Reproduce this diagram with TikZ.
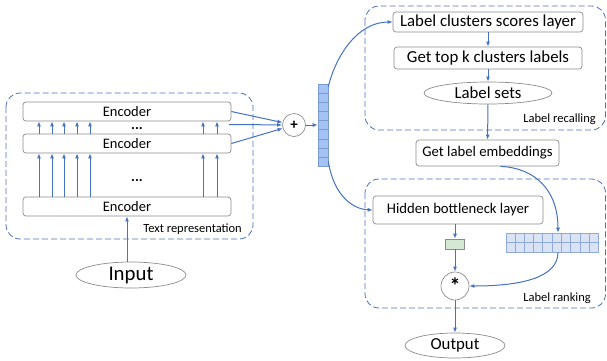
\documentclass[tikz,border=0pt]{standalone}
\usepackage{fontspec}
\setmainfont{Carlito}
\usetikzlibrary{arrows.meta,shapes.geometric,calc}
\definecolor{ablue}{HTML}{4472C4}
\definecolor{dblue}{HTML}{4A70B8}
\definecolor{bgray}{HTML}{8C8C8C}
\definecolor{vecfill}{HTML}{A4C2F4}
\definecolor{vecline}{HTML}{7B9BD0}
\definecolor{matfill}{HTML}{DAE3F3}
\definecolor{matline}{HTML}{8FAADC}
\definecolor{gfill}{HTML}{D5E8D4}
\begin{document}
\begin{tikzpicture}[x=1pt,y=-1pt,
  box/.style={draw=bgray, line width=0.7pt, rounded corners=3pt, fill=white, inner sep=0pt},
  ell/.style={ellipse, draw=bgray, line width=0.7pt, fill=white, inner sep=0pt},
  arr/.style={draw=ablue, line width=1pt, -{Latex[length=5pt,width=4pt]}},
  dashbox/.style={draw=dblue, line width=0.8pt, dash pattern=on 6pt off 3pt, rounded corners=14pt},
  fenc/.style={font=\fontsize{14.5}{16}\selectfont},
  fbig/.style={font=\fontsize{16.8}{18}\selectfont},
  fmid/.style={font=\fontsize{14.7}{16}\selectfont},
  fsmall/.style={font=\fontsize{12.5}{14}\selectfont},
  cellline/.style={draw=vecline, line width=0.5pt}]
\useasboundingbox (0,0) rectangle (607,360);

% dashed containers
\draw[dashbox] (6,93) rectangle (253,239);
\draw[dashbox] (365,6) rectangle (605.5,130);
\draw[dashbox] (365,179) rectangle (605.5,308);

% left encoders
\node[box, fenc, minimum width=208pt, minimum height=19pt] (enc1) at (127,111.5) {Encoder};
\node[box, fenc, minimum width=208pt, minimum height=19pt] (enc2) at (127,143.5) {Encoder};
\node[box, fenc, minimum width=208pt, minimum height=19pt] (enc3) at (127,206.5) {Encoder};
\node[font=\bfseries\fontsize{14.5}{16}\selectfont, anchor=base, inner sep=0pt] (dots1) at (137,129.5) {...};
\node[font=\bfseries\fontsize{14.5}{16}\selectfont, anchor=base, inner sep=0pt] (dots2) at (137,181.5) {...};
\foreach \x in {39,52,64,77,90,203,217} {
  \draw[arr] (enc2.north -| \x,0) -- (enc1.south -| \x,0);
  \draw[arr] (enc3.north -| \x,0) -- (enc2.south -| \x,0);
}
\node[fsmall, anchor=east, inner sep=0pt] (txtrep) at (242,229) {Text representation};

\node[ell, minimum width=110pt, minimum height=26pt, font=\fontsize{20.8}{22}\selectfont] (input) at (131,275) {Input};
\draw[arr] (enc3.south |- input.north) -- (enc3.south);

% plus and vector
\node[circle, draw=bgray, line width=0.7pt, minimum size=23pt, inner sep=0pt, font=\bfseries\fontsize{15}{16}\selectfont] (plus) at (294,125) {+};
\coordinate (midout) at (229,124.5);
\draw[arr] (enc1.east) -- (plus);
\draw[arr] (midout) -- (plus);
\draw[arr] (enc2.east) -- (plus);

\node[draw=vecline, fill=vecfill, line width=0.6pt, minimum width=10pt, minimum height=82pt, inner sep=0pt] (vec) at (323,125) {};
\foreach \i in {1,...,8}
  \draw[cellline] ($(vec.north west)!\i/9!(vec.south west)$) -- ($(vec.north east)!\i/9!(vec.south east)$);
\draw[arr] (plus) -- (vec);

% label recalling
\node[box, fbig, minimum width=190pt, minimum height=20pt] (lcs) at (488,22) {Label clusters scores layer};
\node[box, fbig, minimum width=188pt, minimum height=22pt] (gtk) at (488,58) {Get top k clusters labels};
\node[ell, fbig, minimum width=128pt, minimum height=22pt] (ls) at (488,93) {Label sets};
\node[fsmall, anchor=east, inner sep=0pt] (lrec) at (596,119) {Label recalling};
\draw[arr] (lcs) -- (gtk);
\draw[arr] (gtk) -- (ls);

\node[box, fmid, minimum width=143pt, minimum height=26pt] (gle) at (487.5,153) {Get label embeddings};
\draw[arr] (ls) -- (gle);

% label ranking
\node[box, fmid, minimum width=170pt, minimum height=28pt] (hid) at (458,210) {Hidden bottleneck layer};
\node[draw=bgray, fill=gfill, line width=0.6pt, minimum width=19pt, minimum height=10pt, inner sep=0pt] (green) at (455,244) {};
\node[draw=matline, fill=matfill, line width=0.6pt, minimum width=92pt, minimum height=19pt, inner sep=0pt] (mat) at (552,242.5) {};
\foreach \i in {1,...,9}
  \draw[draw=matline, line width=0.5pt] ($(mat.north west)!\i/10!(mat.north east)$) -- ($(mat.south west)!\i/10!(mat.south east)$);
\draw[draw=matline, line width=0.5pt] (mat.west) -- (mat.east);
\node[circle, draw=bgray, line width=0.7pt, fill=white, minimum size=28pt, inner sep=0pt, font=\bfseries\fontsize{22}{22}\selectfont] (star) at (455,286) {\raisebox{-6pt}{*}};
\node[fsmall, anchor=east, inner sep=0pt] (lrank) at (591,298) {Label ranking};
\node[ell, fbig, minimum width=100pt, minimum height=25pt] (output) at (455,345.5) {Output};

\draw[arr] (hid.south -| green) -- (green);
\draw[arr] (green) -- (star);
\draw[arr] (star) -- (output);

% curved connectors
\draw[arr] ([yshift=-3pt]vec.north east) .. controls (336,55) and (358,22) .. (lcs.west);
\draw[arr] ([yshift=5pt]vec.south east) .. controls (333,192) and (350,209) .. (hid.west);
\draw[arr] ([xshift=13pt]gle.south) .. controls (535,168) and (558,190) .. ([xshift=6pt]mat.north);
\draw[arr] ([xshift=6pt]mat.south) .. controls (558,278) and (520,286) .. (star.east);
\end{tikzpicture}
\end{document}
